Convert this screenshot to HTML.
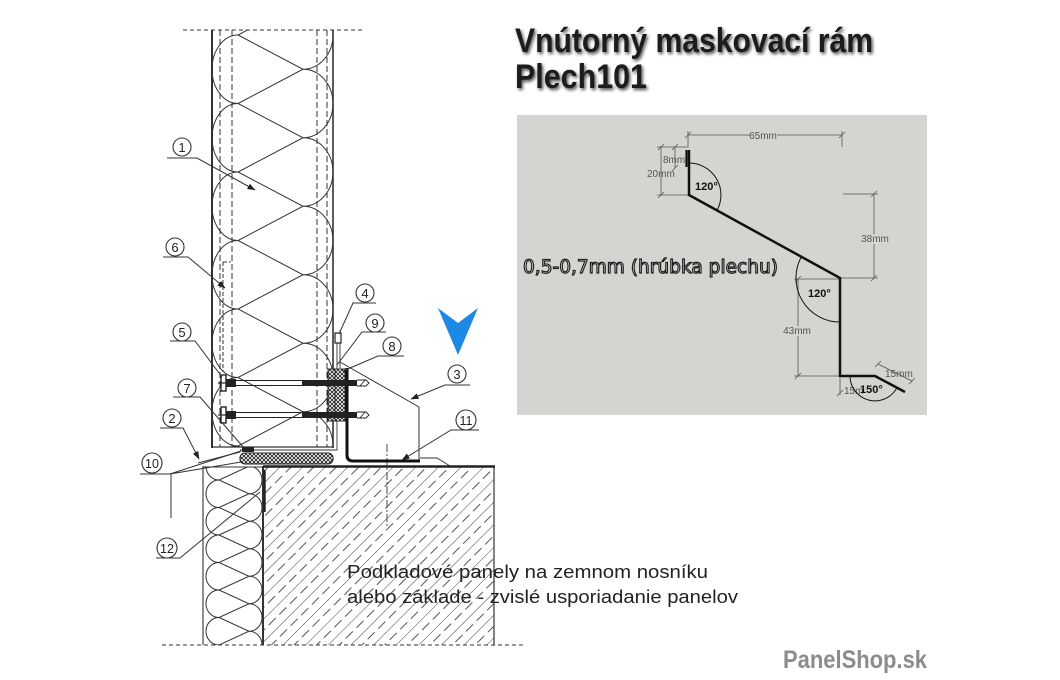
<!DOCTYPE html>
<html><head><meta charset="utf-8"><style>
html,body{margin:0;padding:0;background:#fff;}
svg{display:block;}
</style></head><body>
<svg width="1060" height="680" viewBox="0 0 1060 680" xmlns="http://www.w3.org/2000/svg">
<defs>
  <pattern id="hatch" patternUnits="userSpaceOnUse" width="16" height="30" patternTransform="rotate(45)">
    <line x1="0" y1="0" x2="0" y2="30" stroke="#444" stroke-width="1"/>
    <line x1="8" y1="2" x2="8" y2="12" stroke="#555" stroke-width="1"/>
    <line x1="8" y1="17" x2="8" y2="27" stroke="#555" stroke-width="1"/>
  </pattern>
  <pattern id="xh" patternUnits="userSpaceOnUse" width="4" height="4">
    <rect width="4" height="4" fill="#fff"/>
    <path d="M0 0L4 4M4 0L0 4" stroke="#222" stroke-width="0.9"/>
  </pattern>
  <marker id="ar" markerWidth="8" markerHeight="6" refX="7.5" refY="3" orient="auto" markerUnits="userSpaceOnUse">
    <path d="M0,0 L8,3 L0,6 z" fill="#222"/>
  </marker>
  <clipPath id="wallclip"><rect x="212" y="30" width="122" height="417"/></clipPath>
  <clipPath id="footclip"><rect x="203" y="467" width="60" height="178"/></clipPath>
  <filter id="sh" x="-5%" y="-20%" width="110%" height="140%">
    <feGaussianBlur in="SourceAlpha" stdDeviation="1.6"/>
    <feOffset dx="1.5" dy="2" result="b"/>
    <feComponentTransfer><feFuncA type="linear" slope="0.7"/></feComponentTransfer>
    <feMerge><feMergeNode/><feMergeNode in="SourceGraphic"/></feMerge>
  </filter>
</defs>

<rect width="1060" height="680" fill="#fff"/>

<!-- ================= LEFT DRAWING ================= -->
<g fill="none" stroke="#333" stroke-width="1">
  <line x1="183" y1="30" x2="363" y2="30" stroke-dasharray="4 3"/>
  <line x1="162" y1="645" x2="523" y2="645" stroke-dasharray="4 3"/>

  <!-- wall panel -->
  <line x1="212" y1="30" x2="212" y2="448" stroke-width="2"/>
  <line x1="333" y1="30" x2="333" y2="448" stroke-width="1.6"/>
  <line x1="220" y1="30" x2="220" y2="447" stroke-dasharray="6 3"/>
  <line x1="232" y1="30" x2="232" y2="447" stroke-dasharray="6 3"/>
  <line x1="317" y1="30" x2="317" y2="447" stroke-dasharray="6 3"/>
  <line x1="327" y1="30" x2="327" y2="447" stroke-dasharray="6 3"/>
  <line x1="212" y1="447" x2="334" y2="447" stroke-width="1.2"/>

  <!-- wall insulation loops -->
  <g clip-path="url(#wallclip)" stroke="#333" stroke-width="1">
    <path d="M303 0.75 L238 35 L303 69.25 L238 103.5 L303 137.75 L238 172 L303 206.25 L238 240.5 L303 274.75 L238 309 L303 343.25 L238 377.5 L303 411.75 L238 446 L303 480.25"/>
    <path d="M238 35 A26 34.25 0 0 0 238 103.5 M238 103.5 A26 34.25 0 0 0 238 172 M238 172 A26 34.25 0 0 0 238 240.5 M238 240.5 A26 34.25 0 0 0 238 309 M238 309 A26 34.25 0 0 0 238 377.5 M238 377.5 A26 34.25 0 0 0 238 446 M238 446 A26 34.25 0 0 0 238 514.5"/>
    <path d="M303 0.75 A30 34.25 0 0 1 303 69.25 M303 69.25 A30 34.25 0 0 1 303 137.75 M303 137.75 A30 34.25 0 0 1 303 206.25 M303 206.25 A30 34.25 0 0 1 303 274.75 M303 274.75 A30 34.25 0 0 1 303 343.25 M303 343.25 A30 34.25 0 0 1 303 411.75 M303 411.75 A30 34.25 0 0 1 303 480.25"/>
  </g>

  <!-- element 6 dashed bracket -->
  <path d="M223 262 L231 262 M223 262 L223 372" stroke-dasharray="4 2"/>

  <!-- flashing thin L near panel -->
  <path d="M337 335 L337 450 L240 450" stroke-width="0.9"/>
  <line x1="340" y1="330" x2="340" y2="368" stroke-width="0.9"/>

  <!-- element 4 small bolt -->
  <rect x="335" y="333" width="6" height="10" fill="#fff" stroke="#222" stroke-width="1.2"/>

  <!-- element 3 frame -->
  <path d="M340 362 L419 407 L419 462" stroke-width="1"/>
  <path d="M420 458 L437 458 L450 466" stroke-width="0.9"/>

  <!-- center dash-dot -->
  <line x1="387" y1="444" x2="387" y2="528" stroke-dasharray="8 2 2 2" stroke-width="0.9"/>

  <!-- foundation -->
  <rect x="263" y="466" width="231" height="179" fill="url(#hatch)" stroke="none"/>
  <line x1="494" y1="466" x2="494" y2="645" stroke-width="1.2"/>
  <line x1="203" y1="466" x2="203" y2="645" stroke-width="1.1"/>
  <line x1="203" y1="467" x2="263" y2="467" stroke-width="1.1"/>
  <line x1="263" y1="466" x2="263" y2="645" stroke-width="2"/>
  <line x1="263" y1="466.5" x2="495" y2="466.5" stroke="#222" stroke-width="2.6"/>
  <line x1="264.5" y1="470" x2="264.5" y2="512" stroke="#222" stroke-width="2.4"/>

  <!-- foundation insulation -->
  <g clip-path="url(#footclip)" stroke="#333" stroke-width="1">
    <path d="M249 438.75 L219 452.5 L249 466.25 L219 480 L249 493.75 L219 507.5 L249 521.25 L219 535 L249 548.75 L219 562.5 L249 576.25 L219 590 L249 603.75 L219 617.5 L249 631.25 L219 645 L249 658.75"/>
    <path d="M219 452.5 A13 13.75 0 0 0 219 480 M219 480 A13 13.75 0 0 0 219 507.5 M219 507.5 A13 13.75 0 0 0 219 535 M219 535 A13 13.75 0 0 0 219 562.5 M219 562.5 A13 13.75 0 0 0 219 590 M219 590 A13 13.75 0 0 0 219 617.5 M219 617.5 A13 13.75 0 0 0 219 645 M219 645 A13 13.75 0 0 0 219 672.5"/>
    <path d="M249 438.75 A13 13.75 0 0 1 249 466.25 M249 466.25 A13 13.75 0 0 1 249 493.75 M249 493.75 A13 13.75 0 0 1 249 521.25 M249 521.25 A13 13.75 0 0 1 249 548.75 M249 548.75 A13 13.75 0 0 1 249 576.25 M249 576.25 A13 13.75 0 0 1 249 603.75 M249 603.75 A13 13.75 0 0 1 249 631.25 M249 631.25 A13 13.75 0 0 1 249 658.75"/>
  </g>
</g>

<!-- pads / gaskets -->
<rect x="240" y="453" width="93" height="11" rx="5" fill="url(#xh)" stroke="#222" stroke-width="1.1"/>
<rect x="328" y="369" width="7" height="52" fill="url(#xh)" stroke="#222" stroke-width="1"/>
<rect x="335" y="369" width="10" height="52" fill="url(#xh)" stroke="#222" stroke-width="1"/>
<rect x="242" y="447" width="12" height="5" fill="#222"/>

<!-- L bracket -->
<path d="M347 368 L347 455 Q347 461 353 461 L420 461" fill="none" stroke="#111" stroke-width="3"/>

<!-- bolts -->
<g stroke="#222" fill="none">
  <g>
    <line x1="236" y1="380.5" x2="302" y2="380.5" stroke-width="0.9"/>
    <line x1="236" y1="385.5" x2="302" y2="385.5" stroke-width="0.9"/>
    <rect x="302" y="380" width="55" height="6" fill="#222" stroke="none"/>
    <path d="M357 380 L366 380 L369 383 L366 386 L357 386" stroke-width="0.9"/>
    <line x1="360" y1="386" x2="365" y2="380" stroke-width="0.8"/>
    <rect x="221" y="375" width="5" height="16" fill="#fff" stroke-width="1.4"/>
    <rect x="226" y="379" width="10" height="8" fill="#222" stroke="none"/>
    <line x1="218" y1="383" x2="226" y2="383" stroke-width="1.2"/>
  </g>
  <g>
    <line x1="236" y1="412.5" x2="302" y2="412.5" stroke-width="0.9"/>
    <line x1="236" y1="417.5" x2="302" y2="417.5" stroke-width="0.9"/>
    <rect x="302" y="412" width="55" height="6" fill="#222" stroke="none"/>
    <path d="M357 412 L366 412 L369 415 L366 418 L357 418" stroke-width="0.9"/>
    <line x1="360" y1="418" x2="365" y2="412" stroke-width="0.8"/>
    <rect x="221" y="407" width="5" height="16" fill="#fff" stroke-width="1.4"/>
    <rect x="226" y="411" width="10" height="8" fill="#222" stroke="none"/>
    <line x1="218" y1="415" x2="226" y2="415" stroke-width="1.2"/>
  </g>
</g>

<!-- labels / leaders -->
<g fill="none" stroke="#333" stroke-width="1">
  <path d="M167 158 L197 158 L255 190" marker-end="url(#ar)"/>
  <path d="M163 257 L188 257 L225 288" marker-end="url(#ar)"/>
  <path d="M170 341 L195 341 L222 377"/>
  <path d="M173 397 L200 397 L244 448"/>
  <path d="M160 428 L183 428 L199 459" marker-end="url(#ar)"/>
  <path d="M140 474 L170 474 L241 451 M170 474 L241 462 M171 474 L171 518"/>
  <path d="M198 463 L240 452"/>
  <path d="M156 558 L180 558 L260 492"/>
  <path d="M376 303 L353 303 L339 334"/>
  <path d="M386 332 L362 332 L337 365"/>
  <path d="M404 356 L378 356 L343 371"/>
  <path d="M470 385 L445 385 L411 399" marker-end="url(#ar)"/>
  <path d="M479 430 L451 430 L402 460" marker-end="url(#ar)"/>
</g>
<g fill="#fff" stroke="#333" stroke-width="1.1">
  <circle cx="182" cy="147" r="9"/>
  <circle cx="175" cy="247" r="9"/>
  <circle cx="182" cy="332" r="9"/>
  <circle cx="187" cy="388" r="9"/>
  <circle cx="172" cy="418" r="9"/>
  <circle cx="152" cy="463" r="10"/>
  <circle cx="167" cy="548" r="10"/>
  <circle cx="365" cy="293" r="9"/>
  <circle cx="375" cy="323" r="9"/>
  <circle cx="392" cy="346" r="9"/>
  <circle cx="457" cy="374" r="9"/>
  <circle cx="466" cy="420" r="10"/>
</g>
<g font-family="'Liberation Sans', sans-serif" font-size="13" fill="#222" text-anchor="middle">
  <text x="182" y="152">1</text>
  <text x="175" y="252">6</text>
  <text x="182" y="337">5</text>
  <text x="187" y="393">7</text>
  <text x="172" y="423">2</text>
  <text x="152" y="468" font-size="12.5">10</text>
  <text x="167" y="553" font-size="12.5">12</text>
  <text x="365" y="298">4</text>
  <text x="375" y="328">9</text>
  <text x="392" y="351">8</text>
  <text x="457" y="379">3</text>
  <text x="466" y="425" font-size="12.5">11</text>
</g>

<!-- blue arrow -->
<polygon points="438,308 458,323 478,308 458,355" fill="#1e88e5"/>

<!-- caption -->
<g font-family="'Liberation Sans', 'DejaVu Sans', sans-serif" font-size="18" fill="#222">
  <text x="347" y="578" textLength="361" lengthAdjust="spacingAndGlyphs">Podkladové panely na zemnom nosníku</text>
  <text x="347" y="603" textLength="391" lengthAdjust="spacingAndGlyphs">alebo základe - zvislé usporiadanie panelov</text>
</g>

<!-- ================= TITLE ================= -->
<g font-family="'Liberation Sans', sans-serif" font-weight="bold" font-size="34" fill="#1c1c1c" filter="url(#sh)">
  <text x="515" y="52" textLength="358" lengthAdjust="spacingAndGlyphs">Vnútorný maskovací rám</text>
  <text x="515" y="88" textLength="132" lengthAdjust="spacingAndGlyphs">Plech101</text>
</g>

<!-- ================= RIGHT PANEL ================= -->
<rect x="517" y="115" width="410" height="300" fill="#d4d4d0"/>
<g fill="none" stroke="#555" stroke-width="0.8">
  <line x1="688" y1="135" x2="842" y2="135"/>
  <line x1="688" y1="131" x2="688" y2="148"/>
  <line x1="842" y1="131" x2="842" y2="147"/>
  <line x1="685" y1="138" x2="691" y2="132"/>
  <line x1="839" y1="138" x2="845" y2="132"/>
  <line x1="661" y1="147" x2="661" y2="195"/>
  <line x1="657" y1="147" x2="687" y2="147"/>
  <line x1="657" y1="195" x2="688" y2="195"/>
  <line x1="675" y1="147" x2="675" y2="168"/>
  <line x1="658" y1="150" x2="664" y2="144"/>
  <line x1="658" y1="198" x2="664" y2="192"/>
  <line x1="672" y1="150" x2="678" y2="144"/>
  <line x1="672" y1="171" x2="678" y2="165"/>
  <line x1="874" y1="194" x2="874" y2="278"/>
  <line x1="843" y1="194" x2="878" y2="194"/>
  <line x1="840" y1="278" x2="878" y2="278"/>
  <line x1="871" y1="197" x2="877" y2="191"/>
  <line x1="871" y1="281" x2="877" y2="275"/>
  <line x1="798" y1="279" x2="798" y2="376"/>
  <line x1="794" y1="279" x2="840" y2="279"/>
  <line x1="794" y1="376" x2="840" y2="376"/>
  <line x1="795" y1="282" x2="801" y2="276"/>
  <line x1="795" y1="379" x2="801" y2="373"/>
  <line x1="840" y1="378" x2="840" y2="395"/>
  <line x1="837" y1="396" x2="843" y2="390"/>
  <line x1="878" y1="364" x2="912" y2="381"/>
  <line x1="875" y1="367" x2="881" y2="361"/>
  <line x1="909" y1="384" x2="915" y2="378"/>
</g>
<g font-family="'Liberation Sans', sans-serif" font-size="10" fill="#555">
  <rect x="750" y="130" width="27" height="10" fill="#d4d4d0"/>
  <text x="763" y="139" text-anchor="middle">65mm</text>
  <text x="663" y="163">8mm</text>
  <text x="647" y="177">20mm</text>
  <rect x="862" y="234" width="26" height="10" fill="#d4d4d0"/>
  <text x="875" y="242" text-anchor="middle">38mm</text>
  <rect x="784" y="326" width="26" height="10" fill="#d4d4d0"/>
  <text x="797" y="334" text-anchor="middle">43mm</text>
  <text x="844" y="394">15m</text>
  <text x="885" y="377">15mm</text>
</g>
<g fill="none" stroke="#111" stroke-width="1">
  <path d="M689 163 A32 32 0 0 1 717 210.4"/>
  <path d="M801.4 256.8 A44 44 0 0 0 840 322"/>
  <path d="M850 376 A25 25 0 0 0 897 387.7"/>
</g>
<g font-family="'Liberation Sans', sans-serif" font-size="11" font-weight="bold" fill="#111">
  <text x="695" y="190">120°</text>
  <text x="808" y="297">120°</text>
  <text x="860" y="393">150°</text>
</g>
<path d="M689 150 L689 195 L840 278 L840 376 L875 376 L905 392" fill="none" stroke="#111" stroke-width="2.5" stroke-linejoin="miter"/>
<line x1="686.5" y1="150" x2="686.5" y2="167" stroke="#111" stroke-width="2.2"/>

<text x="523" y="273" font-family="'DejaVu Sans', 'Liberation Sans', sans-serif" font-size="19" fill="#e6e6e6" stroke="#222" stroke-width="1.2" textLength="255" lengthAdjust="spacingAndGlyphs">0,5-0,7mm (hrúbka plechu)</text>

<text x="783" y="668" font-family="'Liberation Sans', sans-serif" font-weight="bold" font-size="25" fill="#8c8c8c" textLength="144" lengthAdjust="spacingAndGlyphs">PanelShop.sk</text>
</svg>
</body></html>
